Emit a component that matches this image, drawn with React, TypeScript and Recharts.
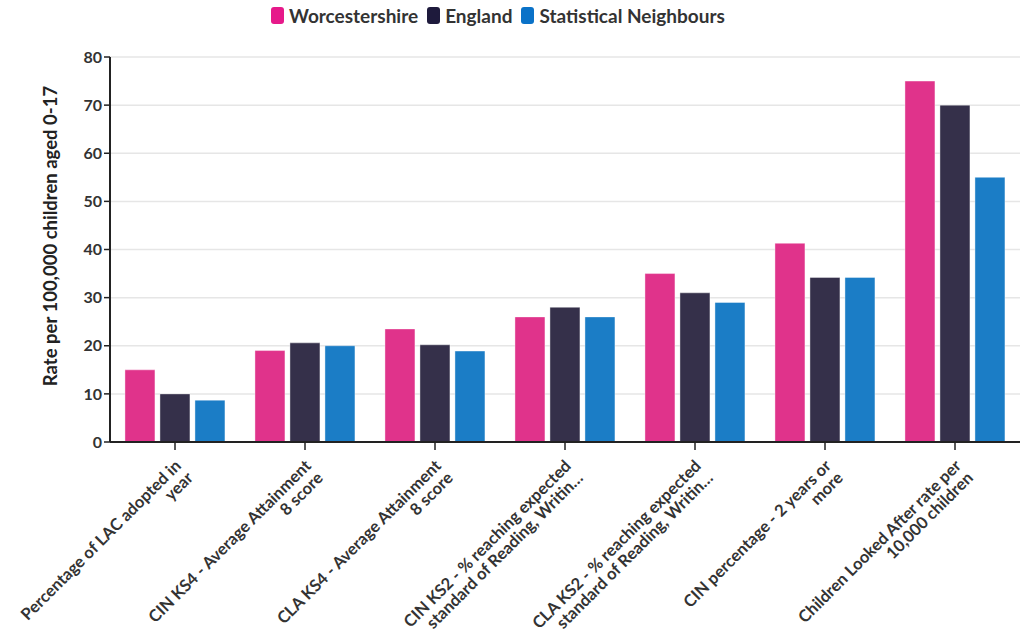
import { BarChart, Bar, XAxis, YAxis, CartesianGrid } from 'recharts'

const categories = [
  'Percentage of LAC adopted in year',
  'CIN KS4 - Average Attainment 8 score',
  'CLA KS4 - Average Attainment 8 score',
  'CIN KS2 - % reaching expected standard of Reading, Writing and Maths',
  'CLA KS2 - % reaching expected standard of Reading, Writing and Maths',
  'CIN percentage - 2 years or more',
  'Children Looked After rate per 10,000 children',
]

const tickLines = [
  ['Percentage of LAC adopted in', 'year'],
  ['CIN KS4 - Average Attainment', '8 score'],
  ['CLA KS4 - Average Attainment', '8 score'],
  ['CIN KS2 - % reaching expected', 'standard of Reading, Writin…'],
  ['CLA KS2 - % reaching expected', 'standard of Reading, Writin…'],
  ['CIN percentage - 2 years or', 'more'],
  ['Children Looked After rate per', '10,000 children'],
]

const worcestershire = [15, 19, 23.5, 26, 35, 41.3, 75]
const england = [10, 20.6, 20.2, 28, 31, 34.2, 70]
const statNeighbours = [8.7, 20, 18.9, 26, 29, 34.2, 55]

const yTicks = [0, 10, 20, 30, 40, 50, 60, 70, 80]

const series = [
  { key: 'w', name: 'Worcestershire', color: '#e0338b', legend: '#e6198a' },
  { key: 'e', name: 'England', color: '#35304a', legend: '#1e1a3c' },
  { key: 'sn', name: 'Statistical Neighbours', color: '#1b7dc6', legend: '#0a72c8' },
]

const data = categories.map((c, i) => ({
  category: c,
  w: worcestershire[i],
  e: england[i],
  sn: statNeighbours[i],
}))

const FONT = 'Lato, "Open Sans", sans-serif'

function XTick({ x, y, payload }: any) {
  const lines = tickLines[categories.indexOf(payload.value)] || [payload.value]
  return (
    <g transform={`translate(${x + 7},${y + 15})`}>
      <text
        transform="rotate(-45)"
        textAnchor="end"
        fill="#333"
        fontSize={16.5}
        fontWeight={700}
        fontFamily={FONT}
      >
        {lines.map((l: string, i: number) => (
          <tspan key={i} x={0} dy={i === 0 ? 0 : 17}>
            {l}
          </tspan>
        ))}
      </text>
    </g>
  )
}

function YLabel() {
  return (
    <text
      x={57}
      y={236}
      transform="rotate(-90 57 236)"
      textAnchor="middle"
      fill="#222"
      fontSize={18.5}
      fontWeight={700}
      fontFamily={FONT}
    >
      Rate per 100,000 children aged 0-17
    </text>
  )
}

export default function App() {
  return (
    <div style={{ position: 'absolute', left: 0, top: 0, width: 1030, height: 639, background: '#fff', fontFamily: FONT }}>
      <div
        style={{
          position: 'absolute',
          left: 0,
          top: 4,
          width: 996,
          display: 'flex',
          justifyContent: 'center',
          gap: 9,
          fontSize: 19,
          fontWeight: 700,
          color: '#333',
        }}
      >
        {series.map((s) => (
          <div key={s.key} style={{ display: 'flex', alignItems: 'center' }}>
            <span
              style={{
                display: 'inline-block',
                width: 13,
                height: 17,
                borderRadius: 3,
                background: s.legend,
                marginRight: 5,
              }}
            />
            {s.name}
          </div>
        ))}
      </div>
      <BarChart
        width={1030}
        height={639}
        data={data}
        margin={{ top: 57, right: 10, bottom: 0, left: 0 }}
        barCategoryGap="11.5%"
        barGap={5}
      >
        <CartesianGrid vertical={false} stroke="#e6e6e6" strokeWidth={1.5} />
        <XAxis
          dataKey="category"
          interval={0}
          height={197}
          tick={<XTick />}
          tickSize={8}
          tickLine={{ stroke: '#222', strokeWidth: 1.5 }}
          axisLine={{ stroke: '#222', strokeWidth: 2 }}
        />
        <YAxis
          width={110}
          domain={[0, 80]}
          ticks={yTicks}
          interval={0}
          tickSize={6}
          tick={{ fill: '#333', fontSize: 16, fontWeight: 700, fontFamily: FONT }}
          tickLine={{ stroke: '#222', strokeWidth: 1.5 }}
          axisLine={{ stroke: '#222', strokeWidth: 2 }}
          label={<YLabel />}
        />
        {series.map((s) => (
          <Bar
            key={s.key}
            dataKey={s.key}
            name={s.name}
            fill={s.color}
            stroke="#ffffff"
            strokeOpacity={0.4}
            strokeWidth={1}
            isAnimationActive={false}
          />
        ))}
      </BarChart>
    </div>
  )
}
